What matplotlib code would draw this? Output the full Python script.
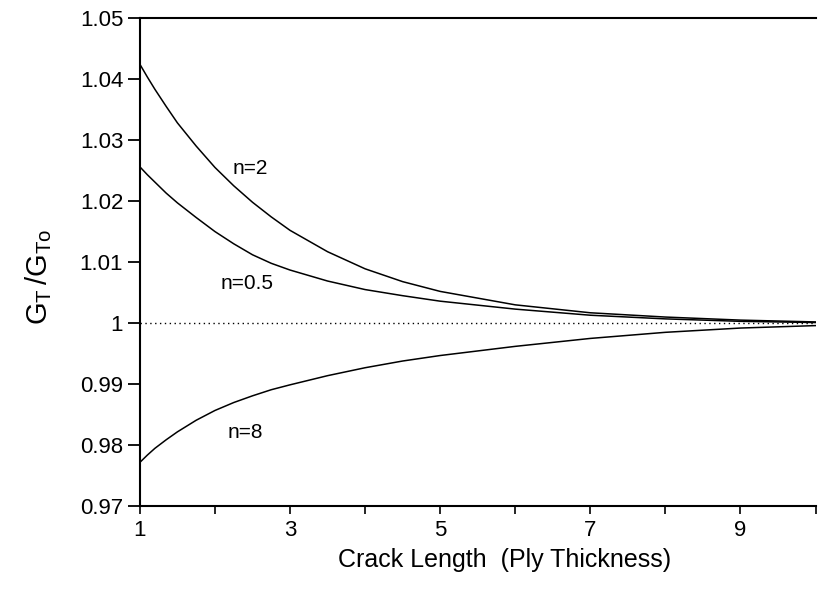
import matplotlib.pyplot as plt

plt.rcParams['font.family'] = ['Liberation Sans', 'DejaVu Sans']
plt.rcParams['mathtext.fontset'] = 'custom'
plt.rcParams['mathtext.rm'] = 'Liberation Sans'
plt.rcParams['mathtext.it'] = 'Liberation Sans'

# crack length (ply thickness)
x = [1, 1.1, 1.2, 1.35, 1.5, 1.75, 2, 2.25, 2.5, 2.75, 3, 3.5, 4, 4.5, 5,
     6, 7, 8, 9, 10]

# G_T / G_To
n2 = [1.0424, 1.0403, 1.0383, 1.0355, 1.0328, 1.0290, 1.0255, 1.0225, 1.0198,
      1.0174, 1.0152, 1.0117, 1.0089, 1.0068, 1.0052, 1.0030, 1.0017, 1.0010,
      1.0005, 1.0002]
n05 = [1.0256, 1.0243, 1.0231, 1.0213, 1.0197, 1.0173, 1.0150, 1.0130, 1.0112,
       1.0098, 1.0087, 1.0069, 1.0055, 1.0045, 1.0036, 1.0023, 1.0013, 1.0007,
       1.0003, 1.0001]
n8 = [0.9772, 0.9784, 0.9795, 0.9809, 0.9822, 0.9841, 0.9857, 0.9870, 0.9881,
      0.9891, 0.9899, 0.9914, 0.9927, 0.9938, 0.9947, 0.9962, 0.9975, 0.9985,
      0.9992, 0.9996]

curve_labels = ["n=2", "n=0.5", "n=8"]
label_x = [2.47, 2.43, 2.40]
label_y = [1.0253, 1.0065, 0.9821]

yticks = [0.97, 0.98, 0.99, 1.00, 1.01, 1.02, 1.03, 1.04, 1.05]
ytick_labels = ["0.97", "0.98", "0.99", "1", "1.01", "1.02", "1.03", "1.04", "1.05"]
xticks = [1, 3, 5, 7, 9]

fig = plt.figure(figsize=(8.18, 5.95), dpi=100)
ax = fig.add_axes([0.171, 0.149, 0.826, 0.821])

for ys in [n2, n05, n8]:
    ax.plot(x, ys, color="black", linewidth=1.1)
ax.plot([1, 10], [1, 1], color="black", linestyle=(0, (1, 2.5)), linewidth=1.0)

for t, tx, ty in zip(curve_labels, label_x, label_y):
    ax.text(tx, ty, t, fontsize=15, ha="center", va="center")

ax.set_xlim(1, 10)
ax.set_ylim(0.97, 1.05)
ax.set_yticks(yticks)
ax.set_yticklabels(ytick_labels)
ax.set_xticks(xticks)
ax.set_xticks([2, 4, 6, 8, 10], minor=True)
ax.tick_params(axis="y", direction="out", length=9, width=1.3, labelsize=16, pad=3)
ax.tick_params(axis="x", which="both", direction="out", length=6, width=1.2,
               labelsize=16, pad=4)

ax.spines["right"].set_visible(False)
for s in ["left", "top", "bottom"]:
    ax.spines[s].set_linewidth(1.5)

ax.set_xlabel("Crack Length  (Ply Thickness)", fontsize=18)
ax.xaxis.set_label_coords(0.54, -0.085)
ax.set_ylabel(r"$\mathregular{G_T\,/G_{To}}$", fontsize=21)
ax.yaxis.set_label_coords(-0.127, 0.47)

plt.savefig("out.png", dpi=100)
